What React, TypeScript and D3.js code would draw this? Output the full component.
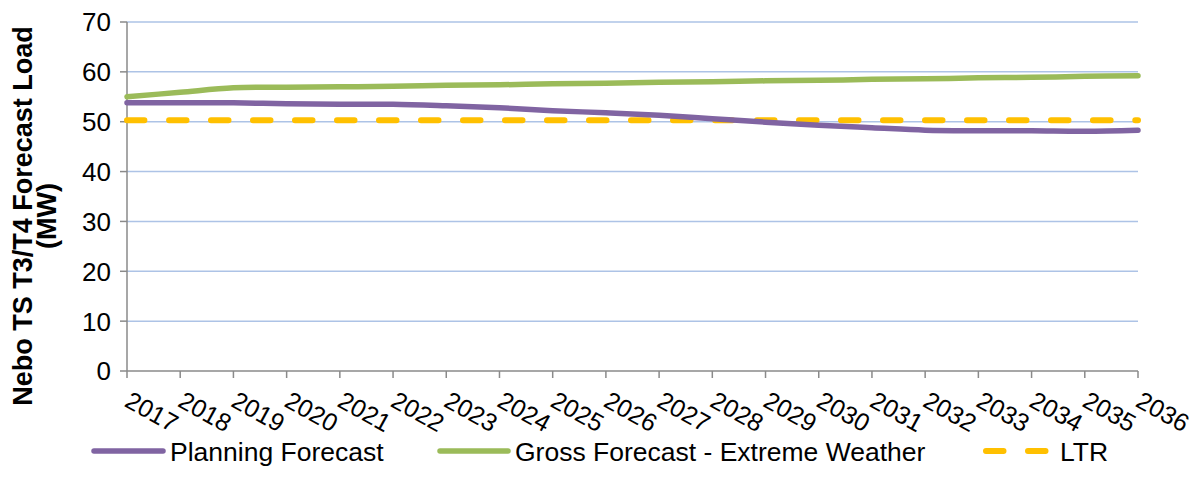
import React, { useEffect, useRef } from 'react'
import * as d3 from 'd3'

// Data
const years = ['2017', '2018', '2019', '2020', '2021', '2022', '2023', '2024', '2025', '2026',
  '2027', '2028', '2029', '2030', '2031', '2032', '2033', '2034', '2035', '2036'];
const planningForecast = [53.8, 53.8, 53.8, 53.6, 53.5, 53.5, 53.2, 52.8, 52.2, 51.8,
  51.3, 50.6, 49.9, 49.3, 48.8, 48.3, 48.2, 48.2, 48.1, 48.3];
const grossForecast = [55.0, 55.9, 56.8, 56.9, 57.0, 57.1, 57.3, 57.4, 57.6, 57.7,
  57.9, 58.0, 58.2, 58.3, 58.5, 58.6, 58.8, 58.9, 59.1, 59.2];
const ltr = [50.3, 50.3, 50.3, 50.3, 50.3, 50.3, 50.3, 50.3, 50.3, 50.3,
  50.3, 50.3, 50.3, 50.3, 50.3, 50.3, 50.3, 50.3, 50.3, 50.3];
const yTicks = [0, 10, 20, 30, 40, 50, 60, 70];

const FONT = '"Liberation Sans", Arial, sans-serif';

export default function App() {
  const svgRef = useRef<SVGSVGElement>(null);
  const width = 1198;
  const height = 493;
  const plot = { left: 127, right: 1138, top: 22, bottom: 371 };

  useEffect(() => {
    if (!svgRef.current) return;
    d3.select(svgRef.current).selectAll('*').remove();
    const svg = d3.select(svgRef.current);

    const x = d3.scalePoint<string>().domain(years).range([plot.left, plot.right]);
    const y = d3.scaleLinear().domain([0, 70]).range([plot.bottom, plot.top]);

    // gridlines
    svg.append('g')
      .selectAll('line')
      .data(yTicks.filter(t => t > 0))
      .enter()
      .append('line')
      .attr('x1', plot.left)
      .attr('x2', plot.right)
      .attr('y1', d => y(d))
      .attr('y2', d => y(d))
      .attr('stroke', '#adc3e6')
      .attr('stroke-width', 1.5);

    // axes
    const axisColor = '#8a8a8a';
    svg.append('line')
      .attr('x1', plot.left).attr('x2', plot.left)
      .attr('y1', plot.top).attr('y2', plot.bottom)
      .attr('stroke', axisColor).attr('stroke-width', 1.5);
    svg.append('line')
      .attr('x1', plot.left).attr('x2', plot.right)
      .attr('y1', plot.bottom).attr('y2', plot.bottom)
      .attr('stroke', axisColor).attr('stroke-width', 1.5);

    svg.append('g')
      .selectAll('line')
      .data(yTicks)
      .enter()
      .append('line')
      .attr('x1', plot.left - 7).attr('x2', plot.left)
      .attr('y1', d => y(d)).attr('y2', d => y(d))
      .attr('stroke', axisColor).attr('stroke-width', 1.5);

    svg.append('g')
      .selectAll('line')
      .data(years)
      .enter()
      .append('line')
      .attr('x1', d => x(d)!).attr('x2', d => x(d)!)
      .attr('y1', plot.bottom).attr('y2', plot.bottom + 7)
      .attr('stroke', axisColor).attr('stroke-width', 1.5);

    // y tick labels
    svg.append('g')
      .selectAll('text')
      .data(yTicks)
      .enter()
      .append('text')
      .attr('x', 111)
      .attr('y', d => y(d))
      .attr('dy', '0.36em')
      .attr('text-anchor', 'end')
      .attr('font-family', FONT)
      .attr('font-size', 26)
      .attr('fill', '#000')
      .text(d => d);

    // x tick labels (rotated)
    svg.append('g')
      .selectAll('text')
      .data(years)
      .enter()
      .append('text')
      .attr('transform', d => `translate(${x(d)! + 5},${plot.bottom + 19}) rotate(29)`)
      .attr('dy', '0.72em')
      .attr('font-family', FONT)
      .attr('font-size', 25)
      .attr('fill', '#000')
      .text(d => d);

    // y axis title
    svg.append('text')
      .attr('transform', 'translate(22,216) rotate(-90)')
      .attr('dy', '0.36em')
      .attr('text-anchor', 'middle')
      .attr('font-family', FONT)
      .attr('font-size', 27)
      .attr('font-weight', 'bold')
      .text('Nebo TS T3/T4 Forecast Load');
    svg.append('text')
      .attr('transform', 'translate(46,216) rotate(-90)')
      .attr('dy', '0.36em')
      .attr('text-anchor', 'middle')
      .attr('font-family', FONT)
      .attr('font-size', 27)
      .attr('font-weight', 'bold')
      .text('(MW)');

    // series
    const line = d3.line<number>()
      .x((_, i) => x(years[i])!)
      .y(d => y(d))
      .curve(d3.curveCardinal.tension(0));

    svg.append('path')
      .attr('d', line(ltr))
      .attr('fill', 'none')
      .attr('stroke', '#ffc000')
      .attr('stroke-width', 6)
      .attr('stroke-linecap', 'round')
      .attr('stroke-dasharray', '17.5 24.5');

    svg.append('path')
      .attr('d', line(grossForecast))
      .attr('fill', 'none')
      .attr('stroke', '#9bbb59')
      .attr('stroke-width', 5.5)
      .attr('stroke-linecap', 'round');

    svg.append('path')
      .attr('d', line(planningForecast))
      .attr('fill', 'none')
      .attr('stroke', '#8064a2')
      .attr('stroke-width', 5.5)
      .attr('stroke-linecap', 'round');

    // legend
    const legendY = 451;
    const legendItems = [
      { label: 'Planning Forecast', color: '#8064a2', x1: 94, x2: 163, textX: 170, dash: null, w: 5.5 },
      { label: 'Gross Forecast - Extreme Weather', color: '#9bbb59', x1: 440, x2: 508, textX: 515, dash: null, w: 5.5 },
      { label: 'LTR', color: '#ffc000', x1: 986, x2: 1046, textX: 1060, dash: '17.5 24.5', w: 6 }
    ];
    const lg = svg.append('g');
    legendItems.forEach(item => {
      const l = lg.append('line')
        .attr('x1', item.x1).attr('x2', item.x2)
        .attr('y1', legendY).attr('y2', legendY)
        .attr('stroke', item.color)
        .attr('stroke-width', item.w)
        .attr('stroke-linecap', 'round');
      if (item.dash) l.attr('stroke-dasharray', item.dash);
      lg.append('text')
        .attr('x', item.textX)
        .attr('y', legendY)
        .attr('dy', '0.36em')
        .attr('font-family', FONT)
        .attr('font-size', 26.5)
        .attr('fill', '#000')
        .text(item.label);
    });
  }, []);

  return (
    <svg
      ref={svgRef}
      width={width}
      height={height}
      style={{ position: 'absolute', left: 0, top: 0, background: '#fff' }}
    />
  );
}
